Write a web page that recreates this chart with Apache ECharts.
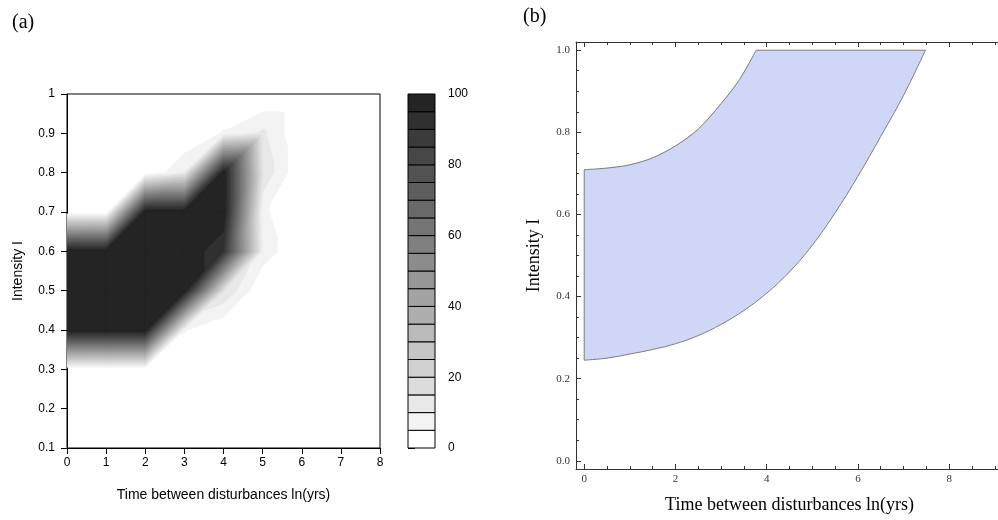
<!DOCTYPE html>
<html><head><meta charset="utf-8">
<script src="https://cdn.jsdelivr.net/npm/echarts@6/dist/echarts.min.js"></script>
<style>html,body{margin:0;padding:0;background:#fff}#c{width:998px;height:520px}</style>
</head><body><div id="c"></div>
<script>
// ---------- Panel (a): contour grid ----------
const timeValues = [0, 1, 2, 3, 4, 5, 6, 7, 8];
const intensityValues = [0.1, 0.2, 0.3, 0.4, 0.5, 0.6, 0.7, 0.8, 0.9, 1.0];
// percentage values at each intensity row (columns follow timeValues)
const rowI01 = [0, 0, 0, 0, 0, 0, 0, 0, 0];
const rowI02 = [0, 0, 0, 0, 0, 0, 0, 0, 0];
const rowI03 = [0, 0, 0, 0, 0, 0, 0, 0, 0];
const rowI04 = [100, 100, 100, 5.5, 0, 0, 0, 0, 0];
const rowI05 = [100, 100, 100, 100, 15, 0, 0, 0, 0];
const rowI06 = [100, 100, 100, 100, 90, 8, 0, 0, 0];
const rowI07 = [0, 0, 100, 100, 100, 6, 0, 0, 0];
const rowI08 = [0, 0, 0, 10, 100, 14, 0, 0, 0];
const rowI09 = [0, 0, 0, 0, 5.5, 11, 0, 0, 0];
const rowI10 = [0, 0, 0, 0, 0, 0, 0, 0, 0];
const contourLevels = [0, 5, 10, 15, 20, 25, 30, 35, 40, 45, 50, 55, 60, 65, 70, 75, 80, 85, 90, 95, 100];
const colorbarTicks = [0, 20, 40, 60, 80, 100];

// ---------- Panel (b): region boundaries ----------
const upperX = [0, 0.5, 1, 1.5, 2, 2.5, 3, 3.4, 3.77];
const upperY = [0.709, 0.713, 0.721, 0.738, 0.767, 0.808, 0.87, 0.928, 1.0];
const lowerX = [0, 0.5, 1, 1.5, 2, 2.5, 3, 3.5, 4, 4.5, 5, 5.5, 6, 6.5, 7, 7.48];
const lowerY = [0.245, 0.25, 0.26, 0.271, 0.285, 0.305, 0.332, 0.366, 0.408, 0.46, 0.525, 0.604, 0.693, 0.79, 0.89, 1.0];
const bXMajor = [0, 2, 4, 6, 8];
const bXMinor = [0.5, 1, 1.5, 2.5, 3, 3.5, 4.5, 5, 5.5, 6.5, 7, 7.5, 8.5, 9];
const bYMajor = [0, 0.2, 0.4, 0.6, 0.8, 1.0];
const bYMinor = [0.05, 0.1, 0.15, 0.25, 0.3, 0.35, 0.45, 0.5, 0.55, 0.65, 0.7, 0.75, 0.85, 0.9, 0.95];

// ---------- build ----------
const zGrid = [rowI01, rowI02, rowI03, rowI04, rowI05, rowI06, rowI07, rowI08, rowI09, rowI10];
const nBands = contourLevels.length - 1;
const cells = [];
for (let k = 1; k < nBands; k++) {
  for (let j = 0; j < intensityValues.length - 1; j++) {
    for (let i = 0; i < timeValues.length - 1; i++) {
      cells.push([timeValues[i], intensityValues[j], timeValues[i + 1], intensityValues[j + 1],
        zGrid[j][i], zGrid[j][i + 1], zGrid[j + 1][i], zGrid[j + 1][i + 1], k]);
    }
  }
}
function bandColor(k) {
  const v = Math.round(255 - k * (255 - 36) / (nBands - 1));
  return 'rgb(' + v + ',' + v + ',' + v + ')';
}
const colorbarData = [];
for (let k = 0; k < nBands; k++) colorbarData.push([0, contourLevels[k], 1, contourLevels[k + 1], k]);

function clipTri(pts, L) {
  const out = [];
  for (let i = 0; i < pts.length; i++) {
    const a = pts[i], b = pts[(i + 1) % pts.length];
    const ain = a[2] >= L, bin = b[2] >= L;
    if (ain) out.push([a[0], a[1]]);
    if (ain !== bin) {
      const t = (L - a[2]) / (b[2] - a[2]);
      out.push([a[0] + t * (b[0] - a[0]), a[1] + t * (b[1] - a[1])]);
    }
  }
  return out;
}
function renderContour(params, api) {
  const x0 = api.value(0), y0 = api.value(1), x1 = api.value(2), y1 = api.value(3);
  const p00 = api.coord([x0, y0]), p10 = api.coord([x1, y0]), p01 = api.coord([x0, y1]), p11 = api.coord([x1, y1]);
  const z00 = api.value(4), z10 = api.value(5), z01 = api.value(6), z11 = api.value(7);
  const k = api.value(8);
  const L = contourLevels[k];
  const tris = [
    [[p00[0], p00[1], z00], [p10[0], p10[1], z10], [p11[0], p11[1], z11]],
    [[p00[0], p00[1], z00], [p11[0], p11[1], z11], [p01[0], p01[1], z01]]
  ];
  const children = [];
  const c = bandColor(k);
  for (const t of tris) {
    const poly = clipTri(t, L);
    if (poly.length >= 3) {
      children.push({ type: 'polygon', shape: { points: poly }, style: { fill: c, stroke: c, lineWidth: 0.6 } });
    }
  }
  return { type: 'group', children: children };
}
function renderColorbar(params, api) {
  const a = api.coord([api.value(0), api.value(1)]);
  const b = api.coord([api.value(2), api.value(3)]);
  return { type: 'rect', shape: { x: a[0], y: b[1], width: b[0] - a[0], height: a[1] - b[1] },
    style: { fill: bandColor(api.value(4)), stroke: '#000', lineWidth: 1 } };
}
const regionPoints = [];
for (let i = lowerX.length - 1; i >= 0; i--) regionPoints.push([lowerX[i], lowerY[i]]);
for (let i = 0; i < upperX.length; i++) regionPoints.push([upperX[i], upperY[i]]);
function renderRegion(params, api) {
  if (params.dataIndex !== 0) return null;
  const pts = regionPoints.map(p => api.coord(p));
  const up = upperX.map((x, i) => api.coord([x, upperY[i]]));
  const lo = lowerX.map((x, i) => api.coord([x, lowerY[i]]));
  const edge = '#7d7d7d';
  return { type: 'group', children: [
    { type: 'polygon', shape: { points: pts }, style: { fill: 'rgb(207,214,246)', stroke: null } },
    { type: 'polyline', shape: { points: up, smooth: 0.35 }, style: { stroke: edge, lineWidth: 1, fill: null } },
    { type: 'polyline', shape: { points: lo, smooth: 0.35 }, style: { stroke: edge, lineWidth: 1, fill: null } },
    { type: 'polyline', shape: { points: [up[0], lo[0]] }, style: { stroke: edge, lineWidth: 1, fill: null } },
    { type: 'polyline', shape: { points: [up[up.length - 1], lo[lo.length - 1]] }, style: { stroke: edge, lineWidth: 1, fill: null } }
  ] };
}

const sans = 'Liberation Sans';
const serif = 'Liberation Serif';
const frame = '#333';
const option = {
  animation: false,
  backgroundColor: '#fff',
  grid: [
    { left: 67, right: 618, top: 94, bottom: 72, show: true, borderColor: '#000', borderWidth: 1, outerBoundsMode: 'none' },
    { left: 408, right: 563, top: 94, bottom: 72, outerBoundsMode: 'none' },
    { left: 576, right: -5, top: 42, bottom: 51, outerBoundsMode: 'none' }
  ],
  graphic: [
    { type: 'text', left: 12, top: 13, style: { text: '(a)', font: '20px "Liberation Serif"', fill: '#000' } },
    { type: 'text', left: 523, top: 7, style: { text: '(b)', font: '20px "Liberation Serif"', fill: '#000' } }
  ],
  xAxis: [
    { gridIndex: 0, type: 'value', min: 0, max: 8, interval: 1,
      axisLine: { show: true, lineStyle: { color: '#000' } },
      axisTick: { show: true, inside: false, length: 6, lineStyle: { color: '#000' } },
      axisLabel: { fontFamily: sans, fontSize: 12, color: '#000', margin: 9 },
      splitLine: { show: false },
      name: 'Time between disturbances ln(yrs)', nameLocation: 'middle', nameGap: 40,
      nameTextStyle: { fontFamily: sans, fontSize: 14, color: '#000' } },
    { gridIndex: 1, type: 'value', min: 0, max: 1, show: false },
    { gridIndex: 2, type: 'value', min: -0.18, max: 9.18, position: 'bottom',
      axisLine: { show: true, onZero: false, lineStyle: { color: frame } },
      axisTick: { show: true, inside: true, length: 5, customValues: bXMajor, lineStyle: { color: frame } },
      axisLabel: { show: true, customValues: bXMajor, fontFamily: serif, fontSize: 11, color: '#333', margin: 5 },
      splitLine: { show: false },
      name: 'Time between disturbances ln(yrs)', nameLocation: 'middle', nameGap: 27,
      nameTextStyle: { fontFamily: serif, fontSize: 18, color: '#000' } },
    { gridIndex: 2, type: 'value', min: -0.18, max: 9.18, position: 'bottom',
      axisLine: { show: false, onZero: false },
      axisTick: { show: true, inside: true, length: 3, customValues: bXMinor, lineStyle: { color: frame } },
      axisLabel: { show: false }, splitLine: { show: false } },
    { gridIndex: 2, type: 'value', min: -0.18, max: 9.18, position: 'top',
      axisLine: { show: true, onZero: false, lineStyle: { color: frame } },
      axisTick: { show: true, inside: true, length: 5, customValues: bXMajor, lineStyle: { color: frame } },
      axisLabel: { show: false }, splitLine: { show: false } },
    { gridIndex: 2, type: 'value', min: -0.18, max: 9.18, position: 'top',
      axisLine: { show: false, onZero: false },
      axisTick: { show: true, inside: true, length: 3, customValues: bXMinor, lineStyle: { color: frame } },
      axisLabel: { show: false }, splitLine: { show: false } }
  ],
  yAxis: [
    { gridIndex: 0, type: 'value', min: 0.1, max: 1, interval: 0.1,
      axisLine: { show: true, lineStyle: { color: '#000' } },
      axisTick: { show: true, inside: false, length: 6, lineStyle: { color: '#000' } },
      axisLabel: { fontFamily: sans, fontSize: 12, color: '#000', margin: 12 },
      splitLine: { show: false },
      name: 'Intensity I', nameLocation: 'middle', nameRotate: 90, nameGap: 42,
      nameTextStyle: { fontFamily: sans, fontSize: 14, color: '#000' } },
    { gridIndex: 1, type: 'value', min: 0, max: 100, interval: 20, position: 'right',
      axisLine: { show: false },
      axisTick: { show: true, inside: false, length: 7, lineStyle: { color: '#000' } },
      axisLabel: { fontFamily: sans, fontSize: 12, color: '#000', margin: 13 },
      splitLine: { show: false } },
    { gridIndex: 2, type: 'value', min: -0.02, max: 1.02, position: 'left',
      axisLine: { show: true, onZero: false, lineStyle: { color: frame } },
      axisTick: { show: true, inside: true, length: 5, customValues: bYMajor, lineStyle: { color: frame } },
      axisLabel: { show: true, customValues: bYMajor, fontFamily: serif, fontSize: 11, color: '#333', margin: 6,
        formatter: v => v.toFixed(1) },
      splitLine: { show: false },
      name: 'Intensity I', nameLocation: 'middle', nameRotate: 90, nameGap: 33,
      nameTextStyle: { fontFamily: serif, fontSize: 18, color: '#000' } },
    { gridIndex: 2, type: 'value', min: -0.02, max: 1.02, position: 'left',
      axisLine: { show: false, onZero: false },
      axisTick: { show: true, inside: true, length: 3, customValues: bYMinor, lineStyle: { color: frame } },
      axisLabel: { show: false }, splitLine: { show: false } }
  ],
  series: [
    { type: 'custom', xAxisIndex: 0, yAxisIndex: 0, renderItem: renderContour, data: cells,
      encode: { x: [0, 2], y: [1, 3] }, clip: true, silent: true },
    { type: 'custom', xAxisIndex: 1, yAxisIndex: 1, renderItem: renderColorbar, data: colorbarData,
      encode: { x: [0, 2], y: [1, 3] }, silent: true },
    { type: 'custom', xAxisIndex: 2, yAxisIndex: 2, renderItem: renderRegion, data: regionPoints,
      encode: { x: 0, y: 1 }, clip: true, silent: true }
  ]
};
const chart = echarts.init(document.getElementById('c'), null, { renderer: 'canvas' });
chart.setOption(option);
</script>
</body></html>
